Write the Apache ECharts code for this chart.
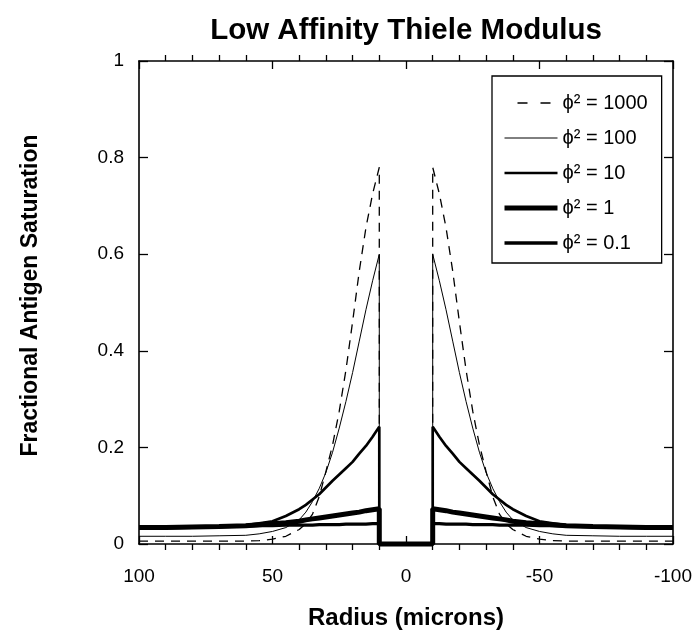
<!DOCTYPE html>
<html>
<head>
<meta charset="utf-8">
<script src="https://cdn.jsdelivr.net/npm/echarts@6/dist/echarts.min.js"></script>
<style>
html,body{margin:0;padding:0;background:#fff;}
#c{width:695px;height:635px;}
</style>
</head>
<body>
<div id="c"></div>
<script>
// Radius (microns) for one side of the profile; the other side is the mirror image
var radius = [10, 12.5, 15, 17.5, 20, 22.5, 25, 27.5, 30, 32.5, 35, 37.5, 40, 45, 50, 55, 60, 70, 80, 90, 100];
var phi2_1000 = [0.78, 0.725, 0.655, 0.565, 0.46, 0.36, 0.275, 0.205, 0.15, 0.098, 0.062, 0.042, 0.03, 0.016, 0.01, 0.007, 0.006, 0.006, 0.006, 0.006, 0.006];
var phi2_100  = [0.60, 0.545, 0.485, 0.42, 0.355, 0.295, 0.24, 0.19, 0.148, 0.115, 0.088, 0.066, 0.05, 0.034, 0.026, 0.021, 0.018, 0.017, 0.016, 0.016, 0.016];
var phi2_10   = [0.243, 0.222, 0.203, 0.187, 0.17, 0.157, 0.144, 0.131, 0.117, 0.103, 0.092, 0.081, 0.072, 0.058, 0.047, 0.043, 0.039, 0.036, 0.034, 0.033, 0.033];
var phi2_1    = [0.073, 0.071, 0.069, 0.066, 0.064, 0.062, 0.06, 0.058, 0.056, 0.054, 0.052, 0.05, 0.047, 0.044, 0.042, 0.04, 0.038, 0.036, 0.035, 0.034, 0.034];
var phi2_01   = [0.042, 0.042, 0.041, 0.041, 0.041, 0.041, 0.040, 0.040, 0.040, 0.040, 0.039, 0.039, 0.039, 0.039, 0.038, 0.038, 0.037, 0.036, 0.036, 0.035, 0.035];
var seriesNames = ['\u03D5\u00B2 = 1000', '\u03D5\u00B2 = 100', '\u03D5\u00B2 = 10', '\u03D5\u00B2 = 1', '\u03D5\u00B2 = 0.1'];
var xTicks = [100, 50, 0, -50, -100];
var yTicks = [0, 0.2, 0.4, 0.6, 0.8, 1];

function profile(vals) {
  var pts = [];
  for (var i = vals.length - 1; i >= 0; i--) pts.push([radius[i], vals[i]]);
  pts.push([radius[0], 0]);
  pts.push([-radius[0], 0]);
  for (var j = 0; j < vals.length; j++) pts.push([-radius[j], vals[j]]);
  return pts;
}

var FONT = 'Liberation Sans, Arial, sans-serif';
var styles = [
  {width: 1.3, type: [9, 7]},
  {width: 1, type: 'solid'},
  {width: 2.7, type: 'solid'},
  {width: 5, type: 'solid'},
  {width: 3.3, type: 'solid'}
];
var allVals = [phi2_1000, phi2_100, phi2_10, phi2_1, phi2_01];

var series = allVals.map(function (v, k) {
  return {
    name: seriesNames[k],
    type: 'line',
    data: profile(v),
    symbol: 'none',
    clip: false,
    animation: false,
    lineStyle: {color: '#000', width: styles[k].width, type: styles[k].type},
    itemStyle: {color: '#000'}
  };
});

var legendData = seriesNames.map(function (n, k) {
  var ls = {color: '#000', width: styles[k].width, type: 'solid'};
  if (k === 0) { ls.type = [10, 13]; ls.dashOffset = 10; }
  return {
    name: n,
    itemStyle: {color: 'rgba(0,0,0,0)', borderColor: 'rgba(0,0,0,0)', borderWidth: 0, opacity: 0},
    lineStyle: ls
  };
});

function xAx(pos, labels) {
  return {
    type: 'value', position: pos, min: -100, max: 100, interval: 50, inverse: true,
    axisLine: {show: true, onZero: false, lineStyle: {color: '#000', width: 1.6}},
    axisTick: {show: true, inside: true, length: 8, lineStyle: {color: '#000', width: 1.3}},
    minorTick: {show: true, splitNumber: 5, length: -6, lineStyle: {color: '#000', width: 1.3}},
    axisLabel: {show: labels, fontSize: 19, color: '#000', fontFamily: FONT, margin: 23,
      formatter: function (v) { return xTicks.indexOf(v) >= 0 ? String(v) : ''; }},
    splitLine: {show: false}, minorSplitLine: {show: false},
    name: labels ? 'Radius (microns)' : '', nameLocation: 'middle', nameGap: 62,
    nameTextStyle: {fontSize: 24, fontWeight: 'bold', color: '#000', fontFamily: FONT}
  };
}
function yAx(pos, labels) {
  return {
    type: 'value', position: pos, min: 0, max: 1, interval: 0.2,
    axisLine: {show: true, onZero: false, lineStyle: {color: '#000', width: 1.6}},
    axisTick: {show: true, inside: true, length: 9, lineStyle: {color: '#000', width: 1.3}},
    axisLabel: {show: labels, fontSize: 19, color: '#000', fontFamily: FONT, margin: 15,
      formatter: function (v) { return yTicks.indexOf(v) >= 0 ? String(v) : ''; }},
    splitLine: {show: false},
    name: labels ? 'Fractional Antigen Saturation' : '', nameLocation: 'middle', nameGap: 97,
    nameTextStyle: {fontSize: 23, fontWeight: 'bold', color: '#000', fontFamily: FONT, padding: [0, 0, 0, 14]}
  };
}

var chart = echarts.init(document.getElementById('c'), null, {renderer: 'canvas'});
chart.setOption({
  backgroundColor: '#fff',
  animation: false,
  title: {
    text: 'Low Affinity Thiele Modulus', left: 406, top: 16, textAlign: 'center', padding: 0,
    textStyle: {fontSize: 29.5, fontWeight: 'bold', color: '#000', fontFamily: FONT}
  },
  grid: {left: 139, right: 22, top: 61, bottom: 84, containLabel: false},
  legend: {
    orient: 'vertical', left: 492, top: 76,
    data: legendData, selectedMode: false,
    itemWidth: 53, itemHeight: 14, itemGap: 15,
    padding: [17, 14, 10, 10],
    borderColor: '#000', borderWidth: 1.3, backgroundColor: '#fff',
    textStyle: {fontSize: 20, lineHeight: 20, color: '#000', fontFamily: FONT}
  },
  xAxis: [xAx('bottom', true), xAx('top', false)],
  yAxis: [yAx('left', true), yAx('right', false)],
  series: series
});
</script>
</body>
</html>
